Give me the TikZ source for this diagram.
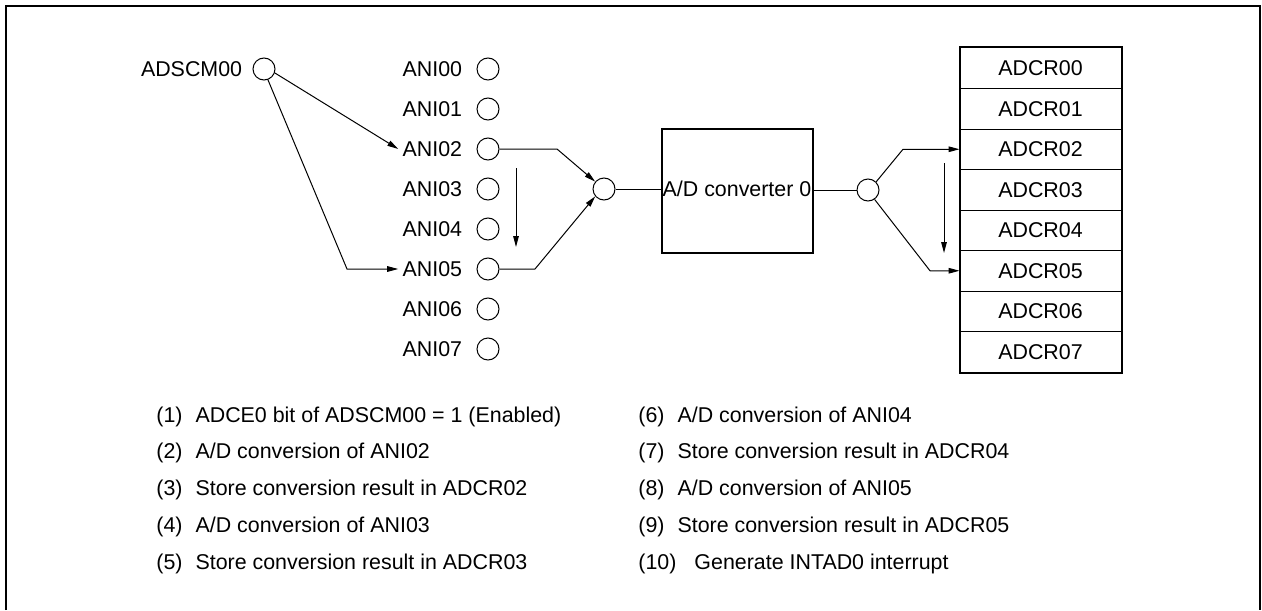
\documentclass[tikz,border=0pt]{standalone}
\usepackage{fontspec}
\setmainfont{Liberation Sans}
\usetikzlibrary{arrows.meta,positioning}
\tikzset{
  % input / switch circle
  pad/.style={circle,draw,line width=0.5pt,minimum size=11pt,inner sep=0pt},
  % plain text label
  lbl/.style={font=\fontsize{10.7}{12}\selectfont,inner sep=2pt},
  % one result register
  reg/.style={rectangle,draw,line width=0.5pt,minimum width=80.5pt,
              minimum height=20.25pt,inner sep=0pt,
              font=\fontsize{10.7}{12}\selectfont},
  % converter block
  cnv/.style={rectangle,draw,line width=1pt,minimum width=75.5pt,
              minimum height=62pt,inner sep=0pt,
              font=\fontsize{10.7}{12}\selectfont},
  % legend line
  note/.style={anchor=west,inner sep=0pt,font=\fontsize{10.7}{12}\selectfont},
  % connectors
  Arr/.style={-{Triangle[length=5.5pt,width=2.8pt]},line width=0.5pt},
  Ln/.style={line width=0.5pt},
}
\begin{document}
\begin{tikzpicture}[x=0.5pt,y=-0.5pt]
  \useasboundingbox (0,0) rectangle (1262,610);
  % outer frame
  \draw[line width=1pt] (6,610) -- (6,6) -- (1260,6) -- (1260,610);
  % scan mode register
  \node[pad] at (264,69) (sc) {};
  \node[lbl,left=3pt of sc] (sct) {ADSCM00};
  % analog inputs
  \foreach \i in {0,...,7} {
    \node[pad] at (488,{69+40*\i}) (a\i) {};
    \node[lbl,left=5pt of a\i] (t\i) {ANI0\i};
  }
  % multiplexer, converter, demultiplexer
  \node[pad] at (604,189) (mux) {};
  \node[cnv] at (737.5,191) (adc) {};
  \node[lbl,inner sep=0pt] at (737,189) (adct) {A/D converter 0};
  \node[pad] at (868,190) (dmx) {};
  % result registers
  \foreach \i in {0,...,7}
    \node[reg] at (1040.5,{68.25+40.5*\i}) (r\i) {ADCR0\i};
  \draw[line width=1pt] (r0.north west) rectangle (r7.south east);
  % bend points
  \coordinate (k5) at (347,269);
  \coordinate (m2) at (557,149);
  \coordinate (m5) at (535,269);
  \coordinate (d2) at (903,149.25);
  \coordinate (d5) at (930,270.75);
  \coordinate (s1) at (516,168);
  \coordinate (s2) at (516,247);
  \coordinate (s3) at (944,163);
  \coordinate (s4) at (944,253);
  % connectors
  \draw[Arr] (sc.-20) -- (t2.west);
  \draw[Arr] (sc.-70) -- (k5) -- (t5.west);
  \draw[Arr] (a2.east) -- (m2) -- (mux.140);
  \draw[Arr] (a5.east) -- (m5) -- (mux.-140);
  \draw[Ln] (mux.east) -- (mux.east -| adc.west);
  \draw[Ln] (dmx.west -| adc.east) -- (dmx.west);
  \draw[Arr] (dmx.45) -- (d2) -- (r2.west);
  \draw[Arr] (dmx.-55) -- (d5) -- (r5.west);
  \draw[Arr] (s1) -- (s2);
  \draw[Arr] (s3) -- (s4);
  % legend
  \node[note] at (156,417) (n1) {(1)\hspace{6.5pt}ADCE0 bit of ADSCM00 = 1 (Enabled)};
  \node[note] at (156,453) (n2) {(2)\hspace{6.5pt}A/D conversion of ANI02};
  \node[note] at (156,490) (n3) {(3)\hspace{6.5pt}Store conversion result in ADCR02};
  \node[note] at (156,527) (n4) {(4)\hspace{6.5pt}A/D conversion of ANI03};
  \node[note] at (156,564) (n5) {(5)\hspace{6.5pt}Store conversion result in ADCR03};
  \node[note] at (638,417) (n6) {(6)\hspace{6.5pt}A/D conversion of ANI04};
  \node[note] at (638,453) (n7) {(7)\hspace{6.5pt}Store conversion result in ADCR04};
  \node[note] at (638,490) (n8) {(8)\hspace{6.5pt}A/D conversion of ANI05};
  \node[note] at (638,527) (n9) {(9)\hspace{6.5pt}Store conversion result in ADCR05};
  \node[note] at (638,564) (n10) {(10)\hspace{9pt}Generate INTAD0 interrupt};
\end{tikzpicture}
\end{document}
